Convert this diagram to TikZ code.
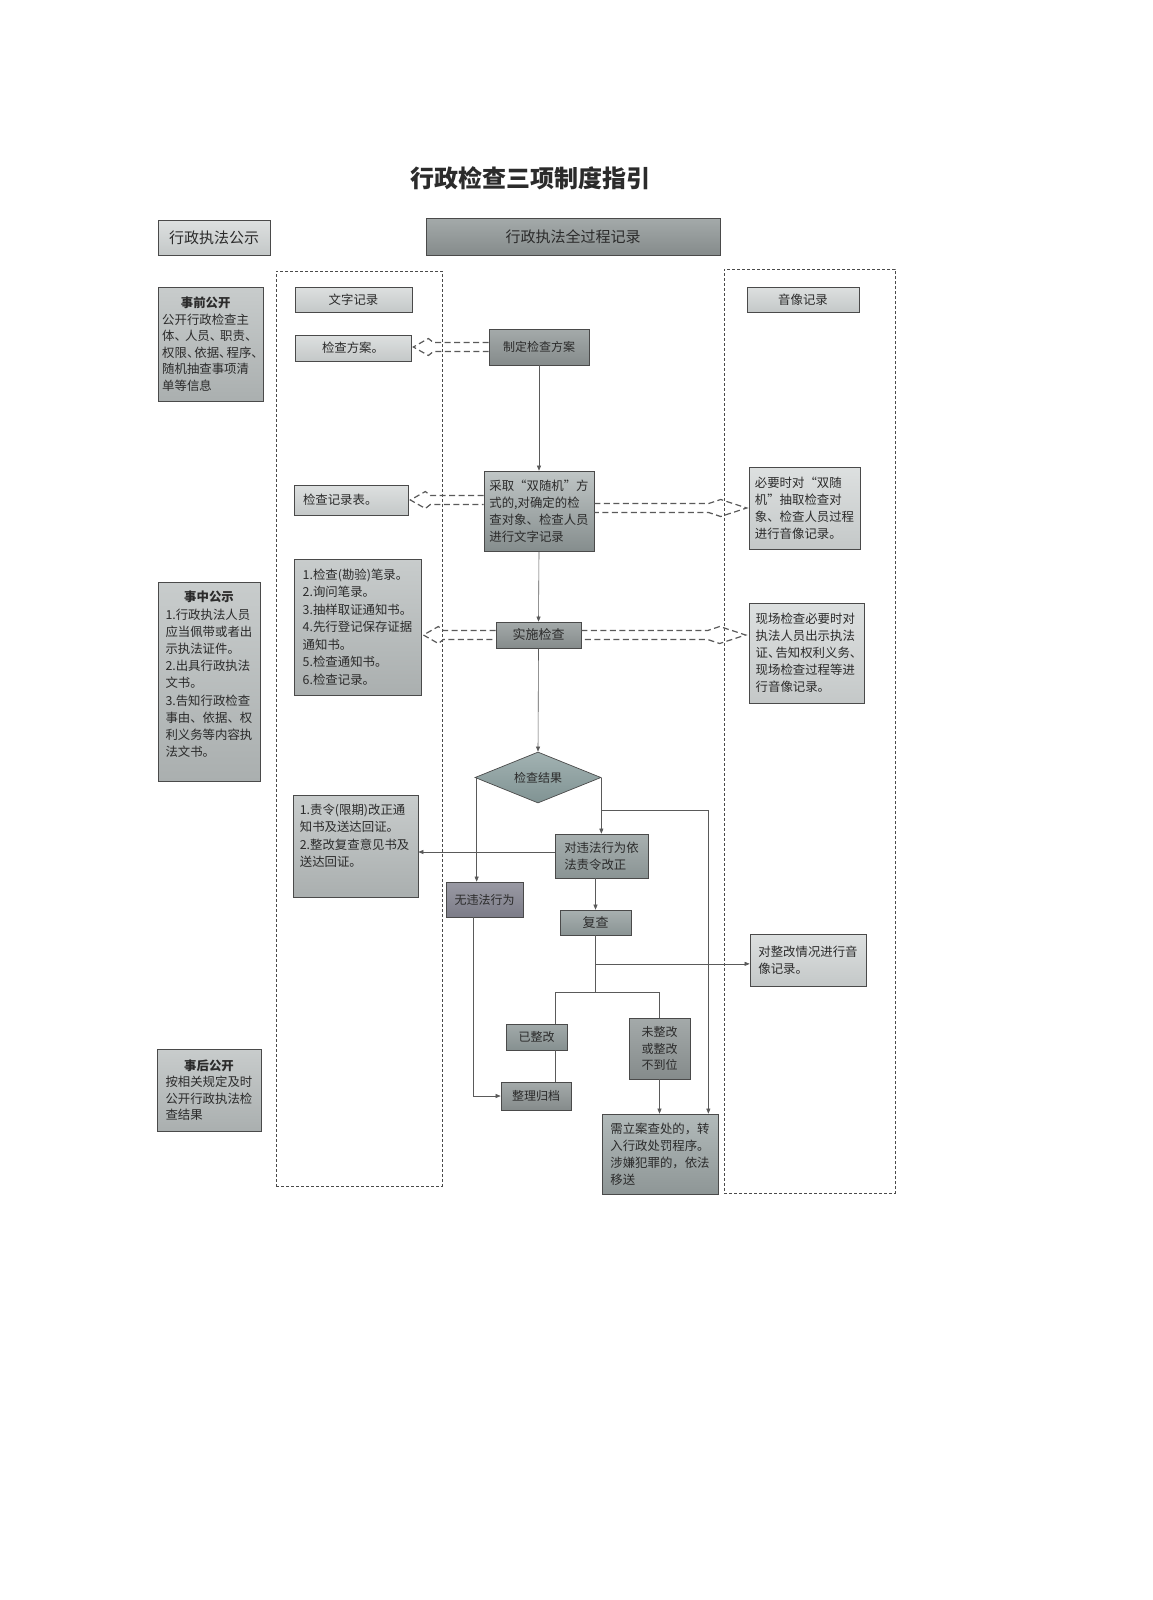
\documentclass[tikz,border=0pt]{standalone}
\usepackage{fontspec}
\setmainfont{Noto Sans CJK SC}
\usetikzlibrary{shapes.geometric,arrows.meta,calc}
\definecolor{txt}{HTML}{2B2B2B}
\definecolor{lgA}{HTML}{DDE0E0}
\definecolor{lgB}{HTML}{C4C8C8}
\definecolor{mgA}{HTML}{C8CCCC}
\definecolor{mgB}{HTML}{AAAFAF}
\definecolor{dgA}{HTML}{A4AAAA}
\definecolor{dgB}{HTML}{858B8B}
\definecolor{diaA}{HTML}{A2B2B2}
\definecolor{diaB}{HTML}{809393}
\definecolor{cqA}{HTML}{C0C6C6}
\definecolor{cqB}{HTML}{858D8D}
\definecolor{tgA}{HTML}{A8B0B0}
\definecolor{tgB}{HTML}{8A9494}
\definecolor{puA}{HTML}{9A9AA4}
\definecolor{puB}{HTML}{7C7C88}
\definecolor{yzA}{HTML}{A2AAAA}
\definecolor{yzB}{HTML}{869090}
\definecolor{xlA}{HTML}{B2BABA}
\definecolor{xlB}{HTML}{8E9696}
\definecolor{edge}{HTML}{4A4A4A}
\definecolor{conn}{HTML}{5A5A5A}
\newcommand{\myfs}[2]{\fontsize{#1}{#2}\selectfont}
\newcommand{\myhd}[2]{\makebox[#2]{\bfseries #1}}
\newcommand{\mydn}{、\kern-5pt}
\newcommand{\mydm}{、\kern-2pt}
% hollow dashed arrow pointing left: #1 start, #2 tip
\newcommand{\hollowL}[2]{%
  \draw[holl] let \p1=(#1), \p2=(#2) in
    (\x1,\y1+4.5pt) -- (\x2+20pt,\y1+4.5pt) -- (\x2+15pt,\y1+8.5pt) -- (\x2,\y1)
    -- (\x2+15pt,\y1-8.5pt) -- (\x2+20pt,\y1-4.5pt) -- (\x1,\y1-4.5pt);}
% hollow dashed arrow pointing right
\newcommand{\hollowR}[2]{%
  \draw[holl] let \p1=(#1), \p2=(#2) in
    (\x1,\y1+4.5pt) -- (\x2-38pt,\y1+4.5pt) -- (\x2-26pt,\y1+8.5pt) -- (\x2,\y1)
    -- (\x2-26pt,\y1-8.5pt) -- (\x2-38pt,\y1-4.5pt) -- (\x1,\y1-4.5pt);}
\begin{document}
\begin{tikzpicture}[x=1pt,y=-1pt,
  bx/.style={draw=edge, line width=0.7pt, inner sep=0pt, text=txt, align=center, font=\myfs{12.4}{17}},
  lbox/.style={bx, top color=lgA, bottom color=lgB},
  mbox/.style={bx, top color=mgA, bottom color=mgB},
  dbox/.style={bx, top color=dgA, bottom color=dgB},
  conn/.style={draw=conn, line width=0.6pt},
  arr/.style={conn, -{Triangle[length=5pt,width=4pt]}},
  dframe/.style={draw=edge, line width=0.9pt, dash pattern=on 3pt off 2pt, inner sep=0pt},
  holl/.style={draw=conn, line width=1.2pt, dash pattern=on 6pt off 3.5pt}]
\fill[white] (0,0) rectangle (1153,1600);
\useasboundingbox (0,0) rectangle (1153,1600);

% frames
\node[dframe, minimum width=166, minimum height=915] (lf) at (359,728.5) {};
\node[dframe, minimum width=171, minimum height=924] (rf) at (809.5,731) {};

% title and headers
\node[font=\myfs{24}{28}\bfseries, text=txt] (title) at (530,178) {行政检查三项制度指引};
\node[lbox, minimum width=112, minimum height=35, font=\myfs{15}{18}] (gs) at (214,237.5) {行政执法公示};
\node[dbox, minimum width=294, minimum height=37, font=\myfs{15}{18}] (qg) at (573,236.5) {行政执法全过程记录};

% left column
\node[mbox, minimum width=105, minimum height=114, align=left, font=\myfs{12.4}{16.5}] (sq) at (210.5,344)
  {\myhd{事前公开}{87pt}\\公开行政检查主\\体\mydm 人员\mydm 职责\mydm\\权限\mydn 依据\mydn 程序\mydn\\随机抽查事项清\\单等信息};
\node[mbox, minimum width=102, minimum height=199, align=left, font=\myfs{12.4}{17.2}] (sz) at (209,681.5)
  {\myhd{事中公示}{87pt}\\1.行政执法人员\\应当佩带或者出\\示执法证件。\\2.出具行政执法\\文书。\\3.告知行政检查\\事由、依据、权\\利义务等内容执\\法文书。\\[-2pt]\mbox{}};
\node[mbox, minimum width=104, minimum height=82, align=left, font=\myfs{12.4}{16.5}] (sh) at (209,1090)
  {\myhd{事后公开}{87pt}\\按相关规定及时\\公开行政执法检\\查结果};

% text record column
\node[lbox, minimum width=117, minimum height=25] (wzjl) at (353.5,299.5) {文字记录};
\node[lbox, minimum width=116, minimum height=26] (fa) at (353,348) {检查方案。};
\node[lbox, minimum width=114, minimum height=30, text width=96, align=left] (jl) at (351,500) {检查记录表。};
\node[mbox, minimum width=127, minimum height=136, align=left, font=\myfs{12.4}{17.5}] (lb) at (357.5,627)
  {1.检查(勘验)笔录。\\2.询问笔录。\\3.抽样取证通知书。\\4.先行登记保存证据\\通知书。\\5.检查通知书。\\6.检查记录。};
\node[mbox, minimum width=125, minimum height=102] (zl) at (355.5,846) {};
\node[anchor=north west, align=left, text=txt, font=\myfs{12.4}{17.5}, inner sep=0pt] (zlt) at ($(zl.north west)+(7,9)$)
  {1.责令(限期)改正通\\知书及送达回证。\\2.整改复查意见书及\\送达回证。};

% center column
\node[dbox, minimum width=100, minimum height=36, font=\myfs{12}{14}] (zd) at (539,347) {制定检查方案};
\node[bx, top color=cqA, bottom color=cqB, minimum width=110, minimum height=80, align=left] (cq) at (539,511)
  {采取“双随机”方\\式的,对确定的检\\查对象、检查人员\\进行文字记录};
\node[dbox, minimum width=85, minimum height=26, font=\myfs{13}{15}] (ss) at (538.5,635) {实施检查};
\node[diamond, draw=edge, line width=0.7pt, top color=diaA, bottom color=diaB, minimum width=126, minimum height=51,
  inner sep=0pt, aspect=2.47, text=txt, font=\myfs{12}{14}] (jg) at (538,777.5) {检查结果};
\node[bx, top color=tgA, bottom color=tgB, minimum width=93, minimum height=44, align=left] (wf) at (601.5,856)
  {对违法行为依\\法责令改正};
\node[bx, top color=puA, bottom color=puB, minimum width=77, minimum height=35, font=\myfs{12}{14}] (ww) at (484.5,899.5) {无违法行为};
\node[bx, top color=tgA, bottom color=tgB, minimum width=71, minimum height=25, font=\myfs{13}{15}] (fc) at (595.5,922.5) {复查};
\node[bx, top color=yzA, bottom color=yzB, minimum width=61, minimum height=26, font=\myfs{12}{14}] (yz) at (536.5,1037) {已整改};
\node[dbox, minimum width=61, minimum height=61, font=\myfs{12}{16.5}] (wz) at (659.5,1048.5) {未整改\\或整改\\不到位};
\node[dbox, minimum width=70, minimum height=28, font=\myfs{12}{14}] (zg) at (536,1096) {整理归档};
\node[bx, top color=xlA, bottom color=xlB, minimum width=116, minimum height=80, align=left] (xl) at (660,1154)
  {需立案查处的，转\\入行政处罚程序。\\涉嫌犯罪的，依法\\移送};

% audio-video column
\node[lbox, minimum width=112, minimum height=25] (yx) at (803,299.5) {音像记录};
\node[lbox, minimum width=111, minimum height=82, align=left] (by) at (804.5,508)
  {必要时对“双随\\机”抽取检查对\\象、检查人员过程\\进行音像记录。};
\node[lbox, minimum width=115, minimum height=100, align=left] (xc) at (806.5,653)
  {现场检查必要时对\\执法人员出示执法\\证\mydn 告知权利义务\mydn\\现场检查过程等进\\行音像记录。};
\node[lbox, minimum width=116, minimum height=52, align=left] (dz) at (808,960) {对整改情况进行音\\像记录。};

% hollow dashed arrows
\hollowL{zd.west}{$(fa.east)+(2,0)$}
\hollowL{cq.west |- jl.east}{$(jl.east)+(2,0)$}
\hollowR{cq.east |- by.west}{$(by.west)+(-2,0)$}
\hollowL{ss.west}{$(lb.east)+(2,0)$}
\hollowR{ss.east}{$(xc.west)+(-3,0)$}

% connectors
\draw[arr] (zd.south) -- (cq.north);
\draw[arr] (cq.south) -- (ss.north);
\draw[arr] (ss.south) -- (jg.north);
\draw[arr] ([xshift=2]jg.west) -- ([xshift=2]jg.west |- ww.north);
\draw[arr] (jg.east) -- (jg.east |- wf.north);
\coordinate (br) at ($(jg.east)+(0,33)$);
\coordinate (xr) at ($(xl.north east)+(-10,0)$);
\draw[arr] (br) -| (xr);
\draw[arr] ([yshift=4]wf.west) -- ([yshift=4]wf.west -| zl.east);
\draw[arr] (fc.north |- wf.south) -- (fc.north);
\coordinate (fb) at ($(fc.south)+(0,57)$);
\coordinate (fm) at ($(fc.south)!0.5!(fb)$);
\draw[conn] (fc.south) -- (fb);
\draw[arr] (fm) -- (fm -| dz.west);
\draw[conn] ([xshift=18.5]yz.north |- fb) -- (wz.north |- fb);
\draw[conn] ([xshift=18.5]yz.north |- fb) -- ([xshift=18.5]yz.north);
\draw[conn] (wz.north |- fb) -- (wz.north);
\draw[conn] ([xshift=18.5]yz.south) -- ([xshift=18.5]yz.south |- zg.north);
\draw[arr] ([xshift=-11.5]ww.south) |- (zg.west);
\draw[arr] (wz.south) -- (wz.south |- xl.north);
\end{tikzpicture}
\end{document}
